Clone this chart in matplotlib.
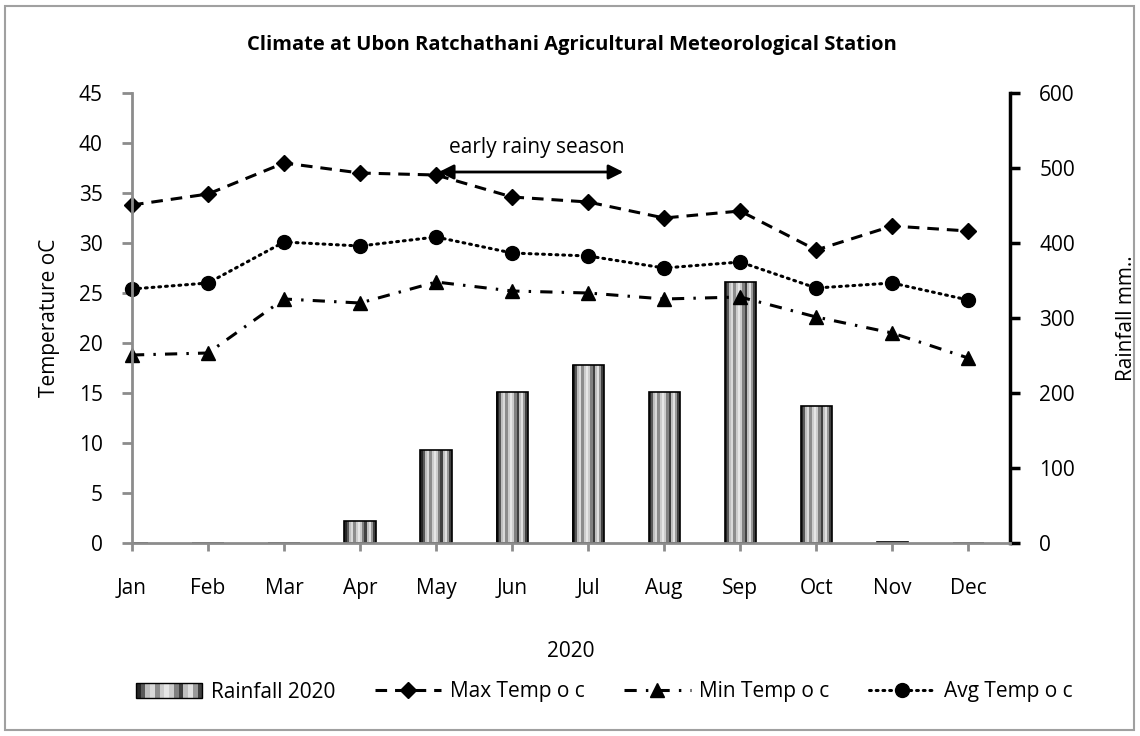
import numpy as np
import matplotlib
matplotlib.use('Agg')
import matplotlib.pyplot as plt
from matplotlib.patches import Rectangle
from matplotlib.legend_handler import HandlerBase

plt.rcParams['font.family'] = ['Open Sans', 'DejaVu Sans']

# data
months = ['Jan', 'Feb', 'Mar', 'Apr', 'May', 'Jun', 'Jul', 'Aug', 'Sep', 'Oct', 'Nov', 'Dec']
rainfall = [0, 0, 0.5, 30, 124, 201, 237, 201, 348, 183, 1, 0]
max_temp = [33.8, 34.9, 38.0, 37.0, 36.8, 34.6, 34.1, 32.5, 33.2, 29.3, 31.7, 31.2]
min_temp = [18.8, 19.0, 24.4, 24.0, 26.1, 25.2, 25.0, 24.4, 24.6, 22.6, 21.0, 18.5]
avg_temp = [25.4, 26.0, 30.1, 29.7, 30.6, 29.0, 28.7, 27.5, 28.1, 25.5, 26.0, 24.3]

# gray levels for the vertical stripes on the rain bars
stripes = [0.15, 0.35, 0.75, 0.85, 0.55, 0.8, 0.9, 0.8, 0.5, 0.25, 0.75, 0.88, 0.6, 0.25]

GRAY = '#8c8c8c'
x = np.arange(len(months))
bar_w = 0.41

fig = plt.figure(figsize=(11.4, 7.36), dpi=100)
ax = fig.add_axes([132/1140, 1-543/736, (1010-132)/1140, (543-93)/736])
ax2 = ax.twinx()

# rain bars, built from thin stripes then outlined
n = len(stripes)
sw = bar_w / n
for k, g in enumerate(stripes):
    off = -bar_w/2 + sw*(k+0.5)
    ax2.bar(x + off, rainfall, width=sw*1.02, color=str(g), linewidth=0, zorder=1)
ax2.bar(x, rainfall, width=bar_w, fill=False, edgecolor='black', linewidth=1.2, zorder=2)

# temperature lines on top
ax.set_zorder(ax2.get_zorder() + 1)
ax.patch.set_visible(False)
lw = 2.2
l_max, = ax.plot(x, max_temp, color='black', lw=lw, dashes=(3.8, 2.6), marker='D', ms=8, clip_on=False)
l_min, = ax.plot(x, min_temp, color='black', lw=lw, dashes=(4, 3, 0.8, 3), marker='^', ms=10, clip_on=False)
l_avg, = ax.plot(x, avg_temp, color='black', lw=lw, dashes=(0.6, 1.6), dash_capstyle='round',
                 marker='o', ms=10, clip_on=False)

ax.set_xlim(0, 11.55)
ax.set_ylim(0, 45)
ax2.set_ylim(0, 600)
ax.set_yticks(np.arange(0, 46, 5))
ax2.set_yticks(np.arange(0, 601, 100))
ax.set_xticks(x)
ax.set_xticklabels(months)

ax.spines['top'].set_visible(False)
ax2.spines['top'].set_visible(False)
ax.spines['right'].set_visible(False)
ax2.spines['left'].set_visible(False)
ax2.spines['bottom'].set_visible(False)
ax.spines['left'].set_color(GRAY)
ax.spines['left'].set_linewidth(2)
ax.spines['bottom'].set_color(GRAY)
ax.spines['bottom'].set_linewidth(2)
ax2.spines['right'].set_color('black')
ax2.spines['right'].set_linewidth(2.5)

ax.tick_params(axis='y', direction='out', length=7, width=2, color=GRAY, labelsize=15, pad=14)
ax.tick_params(axis='x', direction='out', length=6, width=2, color=GRAY, labelsize=15, pad=19)
ax2.tick_params(axis='y', direction='out', length=7, width=2.5, color='black', labelsize=15, pad=14)

ax.set_ylabel('Temperature oC', fontsize=15)
ax.yaxis.set_label_coords(-72/878, 0.5)
ax2.set_ylabel('Rainfall mm..', fontsize=15, rotation=90)
ax2.yaxis.set_label_coords(1 + 106/878, 0.5)
ax.set_xlabel('2020', fontsize=15)
ax.xaxis.set_label_coords(0.5, -98/450)

fig.text(0.502, 1-45/736, 'Climate at Ubon Ratchathani Agricultural Meteorological Station',
         ha='center', va='center', fontsize=14.5, fontweight='bold')

# early rainy season arrow
ax.annotate('', xy=(6.5, 37.1), xytext=(4.0, 37.1),
            arrowprops=dict(arrowstyle='<|-|>', color='black', lw=2, mutation_scale=22))
ax.text(5.33, 39.6, 'early rainy season', ha='center', va='center', fontsize=15)


class StripeHandler(HandlerBase):
    def create_artists(self, legend, orig_handle, xdescent, ydescent, width, height, fontsize, trans):
        arts = []
        w = width / len(stripes)
        for k, g in enumerate(stripes):
            arts.append(Rectangle((-xdescent + k*w, -ydescent), w*1.05, height,
                                  facecolor=str(g), edgecolor='none', transform=trans))
        arts.append(Rectangle((-xdescent, -ydescent), width, height, fill=False,
                              edgecolor='black', lw=1, transform=trans))
        return arts


rain_handle = Rectangle((0, 0), 1, 1)
handles = [rain_handle, l_max, l_min, l_avg]
labels = ['Rainfall 2020', 'Max Temp o c', 'Min Temp o c', 'Avg Temp o c']
fig.legend(handles, labels, loc='center', bbox_to_anchor=(0.53, 1-692/736), ncol=4,
           frameon=False, fontsize=15, handlelength=3.2, handletextpad=0.4, columnspacing=1.9,
           handler_map={Rectangle: StripeHandler()})

# outer frame
fig.patches.append(Rectangle((5/1140, 6/736), 1129/1140, 724/736, transform=fig.transFigure,
                             fill=False, edgecolor='#a0a0a0', lw=1.5))

fig.savefig('out.png', dpi=100)
